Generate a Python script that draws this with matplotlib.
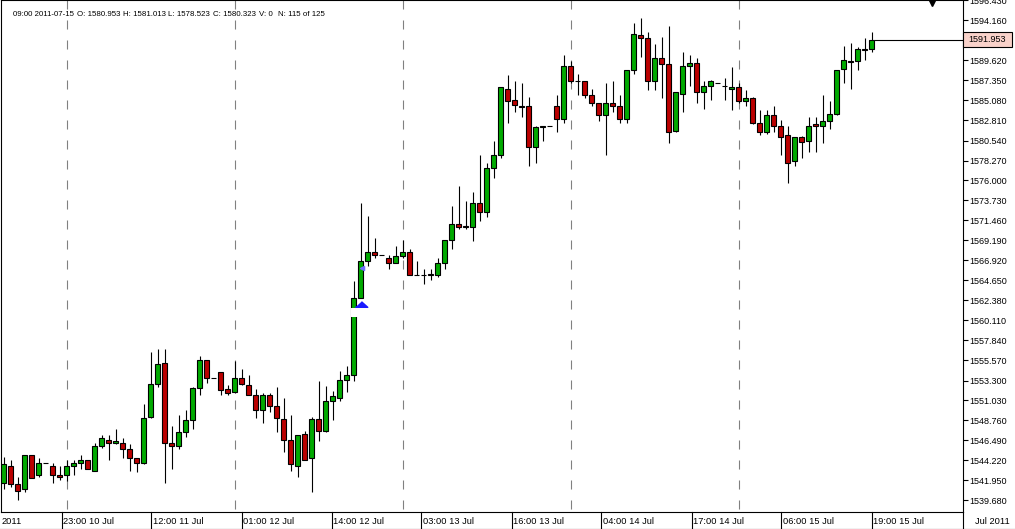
import matplotlib
matplotlib.use("Agg")
import matplotlib.pyplot as plt
import matplotlib.transforms as mtransforms
from matplotlib.lines import Line2D
from matplotlib.patches import Rectangle
import numpy as np

plt.rcParams['font.family'] = ['Liberation Sans', 'DejaVu Sans']
plt.rcParams['lines.scale_dashes'] = False

# ---------------- data (hourly bars, 15:00 10 Jul -> 19:00 15 Jul 2011) ----------------
opens = [1541.72, 1543.65, 1541.50, 1541.04, 1544.79, 1542.52, 1543.99, 1543.65, 1542.63, 1542.52,
         1543.54, 1543.88, 1544.33, 1543.08, 1545.81, 1546.60, 1546.15, 1546.26, 1545.58, 1544.56,
         1543.99, 1549.21, 1552.85, 1555.23, 1546.15, 1545.92, 1547.40, 1548.76, 1552.40, 1555.68,
         1553.53, 1554.32, 1552.28, 1551.94, 1553.64, 1552.74, 1551.60, 1549.90, 1551.71, 1550.35,
         1548.88, 1546.49, 1543.65, 1547.28, 1544.45, 1548.88, 1547.62, 1550.92, 1551.37, 1553.41,
         1553.98, 1562.72, 1566.81, 1567.94, 1567.60, 1567.26, 1566.69, 1567.38, 1567.83, 1565.33,
         1565.33, 1565.44, 1565.22, 1566.69, 1569.30, 1571.01, 1570.78, 1570.67, 1573.39, 1572.48,
         1577.47, 1578.84, 1586.44, 1585.08, 1584.40, 1584.40, 1579.75, 1582.02, 1582.13, 1584.51,
         1583.03, 1588.94, 1587.35, 1587.35, 1585.65, 1584.85, 1583.49, 1584.85, 1584.51, 1583.03,
         1588.49, 1592.46, 1592.23, 1587.24, 1589.85, 1589.17, 1581.67, 1585.87, 1589.05, 1589.28,
         1586.10, 1586.67, 1587.12, 1586.78, 1586.33, 1586.56, 1584.97, 1585.42, 1582.47, 1581.56,
         1583.49, 1582.13, 1581.22, 1578.16, 1580.953, 1580.43, 1582.36, 1582.13, 1582.70, 1583.60,
         1588.60, 1589.62, 1589.62, 1590.87, 1590.87]
highs = [1544.67, 1544.33, 1542.40, 1544.90, 1544.79, 1544.56, 1543.99, 1543.99, 1543.65, 1544.22,
         1544.33, 1544.79, 1544.33, 1546.15, 1547.06, 1547.06, 1547.85, 1546.72, 1546.04, 1544.56,
         1550.58, 1556.59, 1556.93, 1556.93, 1548.19, 1549.33, 1549.90, 1552.51, 1556.03, 1555.68,
         1553.53, 1554.32, 1552.74, 1555.57, 1554.55, 1553.87, 1552.28, 1551.83, 1551.83, 1552.51,
         1551.26, 1549.33, 1547.17, 1547.62, 1549.21, 1553.30, 1552.62, 1552.06, 1554.43, 1555.00,
         1564.54, 1573.50, 1571.99, 1569.42, 1567.60, 1567.60, 1568.51, 1569.30, 1568.17, 1566.81,
         1566.01, 1566.01, 1567.15, 1569.19, 1573.16, 1575.32, 1573.62, 1574.75, 1578.84, 1577.93,
         1580.54, 1586.56, 1587.92, 1587.35, 1587.01, 1585.52, 1582.24, 1582.24, 1582.13, 1585.65,
         1590.19, 1589.62, 1588.14, 1587.35, 1586.44, 1584.85, 1587.01, 1587.24, 1585.65, 1588.49,
         1593.93, 1594.39, 1592.80, 1591.44, 1592.34, 1593.48, 1585.99, 1590.64, 1590.19, 1589.96,
         1587.35, 1587.46, 1587.12, 1587.58, 1588.83, 1587.01, 1586.22, 1585.53, 1583.95, 1583.95,
         1584.51, 1582.92, 1582.24, 1580.99, 1581.013, 1583.26, 1583.26, 1585.65, 1585.08, 1588.49,
         1591.21, 1591.55, 1591.10, 1592.23, 1592.91]
lows = [1541.04, 1541.16, 1539.79, 1540.70, 1542.29, 1542.40, 1543.99, 1541.61, 1541.95, 1541.84,
        1542.52, 1543.31, 1543.20, 1543.08, 1545.69, 1544.22, 1546.04, 1544.56, 1543.08, 1542.97,
        1543.77, 1549.10, 1552.51, 1541.61, 1543.31, 1545.47, 1546.94, 1547.85, 1551.71, 1553.07,
        1553.53, 1551.60, 1551.71, 1551.83, 1552.74, 1551.60, 1549.10, 1548.42, 1549.78, 1547.40,
        1545.24, 1543.08, 1542.40, 1544.22, 1540.70, 1546.38, 1547.51, 1548.76, 1550.92, 1551.94,
        1553.30, 1562.61, 1566.24, 1567.26, 1567.60, 1565.90, 1566.58, 1567.26, 1565.33, 1565.33,
        1564.20, 1564.76, 1565.10, 1566.01, 1568.17, 1570.44, 1570.44, 1569.08, 1571.35, 1571.81,
        1576.34, 1578.61, 1582.47, 1583.78, 1583.22, 1577.70, 1578.04, 1580.54, 1582.13, 1581.51,
        1582.58, 1587.12, 1585.76, 1585.42, 1584.40, 1582.70, 1578.84, 1583.83, 1582.58, 1582.58,
        1588.14, 1590.07, 1586.22, 1586.22, 1585.31, 1580.20, 1581.45, 1583.83, 1586.67, 1584.74,
        1584.06, 1585.19, 1587.12, 1585.19, 1583.95, 1584.85, 1584.51, 1582.36, 1581.11, 1581.33,
        1581.56, 1578.84, 1575.77, 1577.70, 1578.523, 1579.29, 1579.29, 1580.31, 1581.79, 1583.49,
        1587.01, 1586.44, 1588.49, 1589.73, 1590.64]
closes = [1543.77, 1541.50, 1540.81, 1544.79, 1542.29, 1543.99, 1543.99, 1542.63, 1542.40, 1543.65,
          1543.88, 1544.33, 1543.20, 1545.81, 1546.72, 1546.15, 1546.38, 1545.58, 1544.56, 1543.99,
          1549.10, 1552.85, 1555.12, 1546.15, 1545.92, 1547.40, 1548.76, 1552.40, 1555.57, 1553.53,
          1553.53, 1552.17, 1551.83, 1553.64, 1552.85, 1551.71, 1549.90, 1551.71, 1550.35, 1549.10,
          1546.49, 1543.77, 1547.17, 1544.33, 1548.88, 1547.62, 1550.92, 1551.49, 1553.30, 1553.98,
          1562.61, 1566.81, 1567.94, 1567.60, 1567.60, 1566.58, 1567.38, 1567.83, 1565.33, 1565.33,
          1565.28, 1565.22, 1566.69, 1569.19, 1571.01, 1570.67, 1570.72, 1573.39, 1572.48, 1577.47,
          1578.84, 1586.56, 1585.08, 1584.62, 1584.35, 1579.75, 1582.02, 1582.13, 1582.13, 1583.03,
          1589.05, 1587.24, 1587.24, 1585.65, 1584.85, 1583.49, 1584.85, 1584.40, 1583.03, 1588.49,
          1592.68, 1592.23, 1587.35, 1589.85, 1589.17, 1581.45, 1585.99, 1589.05, 1589.28, 1586.10,
          1586.67, 1587.24, 1587.12, 1586.67, 1586.56, 1584.97, 1585.42, 1582.47, 1581.56, 1583.49,
          1582.24, 1580.99, 1578.04, 1580.99, 1580.323, 1582.24, 1582.13, 1582.70, 1583.60, 1588.49,
          1589.62, 1589.50, 1590.87, 1590.80, 1591.953]

day_starts = [9, 33, 57, 81, 105]          # 00:00 bars
time_labels = ["23:00 10 Jul", "12:00 11 Jul", "01:00 12 Jul", "14:00 12 Jul", "03:00 13 Jul",
               "16:00 13 Jul", "04:00 14 Jul", "17:00 14 Jul", "06:00 15 Jul", "19:00 15 Jul"]
time_label_pos = [8.3, 21.1, 34.0, 46.9, 59.7, 72.6, 85.4, 98.3, 111.1, 124.0]
price_tick_start, price_tick_step, n_price_ticks = 1539.68, 2.27, 26
signal_bar, signal_price = 51, 1561.98

header_fields = ["09:00 2011-07-15", "O: 1580.953", "H: 1581.013", "L: 1578.523",
                 "C: 1580.323", "V: 0", "N: 115 of 125"]

# ---------------- figure ----------------
W, H = 1015, 529
fig = plt.figure(figsize=(W / 100, H / 100), dpi=100)
fig.patch.set_facecolor('white')

B = 512.0  # bottom of plot area (px)
ax = fig.add_axes([0.5 / W, 1 - B / H, 962 / W, B / H])
ax.set_facecolor('white')

n = len(opens)
x = np.arange(n)
o = np.array(opens); c = np.array(closes); hi = np.array(highs); lo = np.array(lows)

xmin = -3 / 7
xmax = xmin + 962 / 7
ytop = 1596.43 + 0.1135 * 0.5
ybot = 1596.43 - 0.1135 * (B - 0.5)
ax.set_xlim(xmin, xmax)
ax.set_ylim(ybot, ytop)

# day separators
for d in day_starts:
    ax.plot([d, d], [ytop, ybot], color='#808080', lw=0.8, dashes=(6.5, 7.9), zorder=1)

# wicks
ax.vlines(x, lo, hi, color='black', lw=0.8, zorder=2)
# bodies
colors = np.where(c > o, '#00AA00', np.where(c < o, '#BB0000', 'black'))
ax.bar(x, np.abs(c - o), bottom=np.minimum(o, c), width=0.72, color=colors,
       edgecolor='black', linewidth=0.8, zorder=3)

# white label band hiding part of a bar, and signal arrow
ax.add_patch(Rectangle((signal_bar - 1.4, 1596.43 - 0.1135 * 316.7), 4.6, 0.1135 * 9,
                       facecolor='white', edgecolor='none', zorder=4))
ax.plot([signal_bar], [signal_price], marker=[(-1, -0.45), (1, -0.45), (0, 0.45)],
        markersize=9, color='#1a1aff', zorder=5, linestyle='none')
ax.plot([signal_bar + 0.2], [1566.05], marker='<', markersize=3, color='#7070ff',
        zorder=5, linestyle='none')

# last price line
ax.hlines(c[-1], n - 1 + 0.36, xmax, color='black', lw=0.8, zorder=3)

# axes styling
for s in ['left', 'top', 'right', 'bottom']:
    ax.spines[s].set_color('black')
    ax.spines[s].set_linewidth(0.8)
ax.set_xticks([])
ticks = [price_tick_start + price_tick_step * k for k in range(n_price_ticks)]
ax.set_yticks(ticks)
ax.set_yticklabels([f"{t:.3f}" for t in ticks])
ax.yaxis.tick_right()
ax.tick_params(axis='y', which='major', length=3.6, width=0.8, pad=1.2,
               labelsize=6.5, colors='black', direction='out')

# bottom time strip
blend = mtransforms.blended_transform_factory(ax.transData, fig.transFigure)
label_tr = mtransforms.offset_copy(blend, fig=fig, x=1.6, units='dots')
for pos, lab in zip(time_label_pos, time_labels):
    fig.add_artist(Line2D([pos, pos], [1 - B / H, 1 - 528 / H], color='black', lw=0.8,
                          transform=blend))
    ax.text(pos, 1 - 521 / H, lab, fontsize=6.7, va='center', ha='left',
            transform=label_tr, clip_on=False)
fig.text(1.5 / W, 1 - 521 / H, "2011", fontsize=6.7, va='center', ha='left')
fig.text(1010 / W, 1 - 521 / H, "Jul 2011", fontsize=6.7, va='center', ha='right')
fig.add_artist(Line2D([0, 1], [1 - 528.5 / H, 1 - 528.5 / H], color='black', lw=0.8,
                      transform=fig.transFigure))
fig.add_artist(Line2D([962.5 / W, 962.5 / W], [1 - B / H, 1 - 528.5 / H], color='black',
                      lw=0.8, transform=fig.transFigure))

# current price box on the price axis
fig.add_artist(Rectangle((963 / W, 1 - 47 / H), 49 / W, 15 / H, transform=fig.transFigure,
                         facecolor='#F9D2CA', edgecolor='black', lw=0.8, zorder=10))
fig.text(987.5 / W, 1 - 39.5 / H, f"{c[-1]:.3f}", fontsize=6.5, ha='center', va='center',
         zorder=11)

# black marker at top
fig.add_artist(Line2D([932 / W], [1 - 0.5 / H], marker='v', markersize=7.5, color='black',
                      transform=fig.transFigure))

# header
header_x = [13, 77, 123, 168, 213, 259, 278]
for hx, txt in zip(header_x, header_fields):
    fig.text(hx / W, 1 - 15 / H, txt, fontsize=5.7, ha='left', va='center')

fig.savefig("out.png", dpi=100, facecolor='white')
